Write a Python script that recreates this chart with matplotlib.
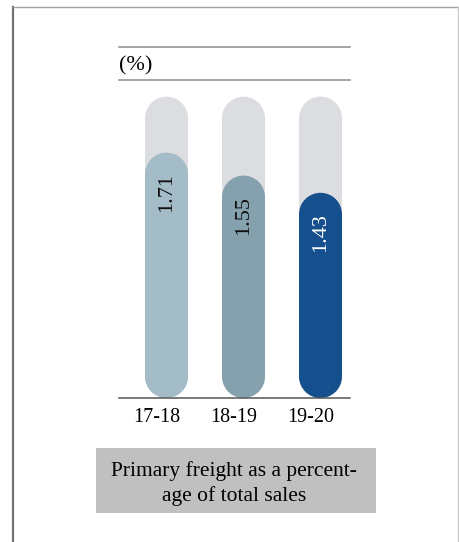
import matplotlib
matplotlib.use("Agg")
import matplotlib.pyplot as plt
from matplotlib.patches import Ellipse, Rectangle
from matplotlib.lines import Line2D
from matplotlib.transforms import offset_copy

# ---- data ----
categories = ["17-18", "18-19", "19-20"]
values = [1.71, 1.55, 1.43]
value_labels = ["1.71", "1.55", "1.43"]
background_max = 2.1
unit_label = "(%)"
caption_lines = ["Primary freight as a percent-", "age of total sales"]

bar_colors = ["#a4bcc8", "#85a1ae", "#154f8d"]
label_colors = ["#111111", "#111111", "#ffffff"]
bg_color = "#dcdde0"

W, H = 459, 542
fig = plt.figure(figsize=(W / 100, H / 100), dpi=100)
plt.rcParams['font.family'] = ['Liberation Serif', 'DejaVu Serif']

def fx(px):
    return px / W

def fy(py):
    return 1 - py / H

# axes: x from 119 to 350 px, y from baseline 398 to top line 47
ax_left, ax_right, ax_top, ax_bottom = 119, 350, 47, 398
ax = fig.add_axes([fx(ax_left), fy(ax_bottom), (ax_right - ax_left) / W, (ax_bottom - ax_top) / H])
px_per_unit = 143.5
spacing = 77.0
ax.set_xlim(-(166.5 - ax_left) / spacing, 2 + (ax_right - 320.5) / spacing)
ax.set_ylim(0, (ax_bottom - ax_top) / px_per_unit)
for s in ["left", "right"]:
    ax.spines[s].set_visible(False)
ax.spines["top"].set_color("#8c8c8c")
ax.spines["top"].set_linewidth(1.1)
ax.spines["bottom"].set_color("#555555")
ax.spines["bottom"].set_linewidth(1.1)
ax.set_yticks([])
ax.set_xticks([])
ax.axhline((ax_bottom - 80) / px_per_unit, color="#8c8c8c", lw=1.1, clip_on=False)
ax.text(0, 1 - 19 / (ax_bottom - ax_top), unit_label, transform=ax.transAxes, fontsize=16,
        va="center", ha="left")

# category labels (shifted slightly left of bar centres, as in the source)
lab_trans = offset_copy(ax.get_xaxis_transform(), fig=fig, x=-9.5, y=-20, units="dots")
for i, c in enumerate(categories):
    ax.text(i, 0, c, transform=lab_trans, ha="center", va="center", fontsize=14.5)

bar_w = 43 / spacing
cap_h = 43 / px_per_unit  # ellipse height in data units -> circular in pixels
r_y = cap_h / 2

def pill(x, top, color):
    ax.add_patch(Rectangle((x - bar_w / 2, r_y), bar_w, top - 2 * r_y, fc=color, ec="none", lw=0))
    ax.add_patch(Ellipse((x, top - r_y), bar_w, cap_h, fc=color, ec="none", lw=0))
    ax.add_patch(Ellipse((x, r_y), bar_w, cap_h, fc=color, ec="none", lw=0))

for i, v in enumerate(values):
    pill(i, background_max, bg_color)
    pill(i, v, bar_colors[i])
    ax.text(i, v - 20 / px_per_unit, value_labels[i], rotation=90, ha="center", va="top",
            fontsize=16, color=label_colors[i])

# caption box
fig.patches.append(Rectangle((fx(96), fy(513)), 280 / W, 65 / H, transform=fig.transFigure,
                             fc="#c0c0c0", ec="none"))
fig.text(fx(234), fy(471), caption_lines[0], ha="center", va="center", fontsize=15.5)
fig.text(fx(234), fy(496), caption_lines[1], ha="center", va="center", fontsize=15.5)

# frame
fig.lines.append(Line2D([fx(13), fx(13)], [fy(7), fy(542)], transform=fig.transFigure,
                        color="#6e7378", lw=1.6))
fig.lines.append(Line2D([fx(13), fx(459)], [fy(7), fy(7)], transform=fig.transFigure,
                        color="#9ea2a6", lw=1.0))
fig.lines.append(Line2D([fx(458), fx(458)], [fy(7), fy(542)], transform=fig.transFigure,
                        color="#c8c8c8", lw=1.0))

fig.savefig("out.png", dpi=100)
